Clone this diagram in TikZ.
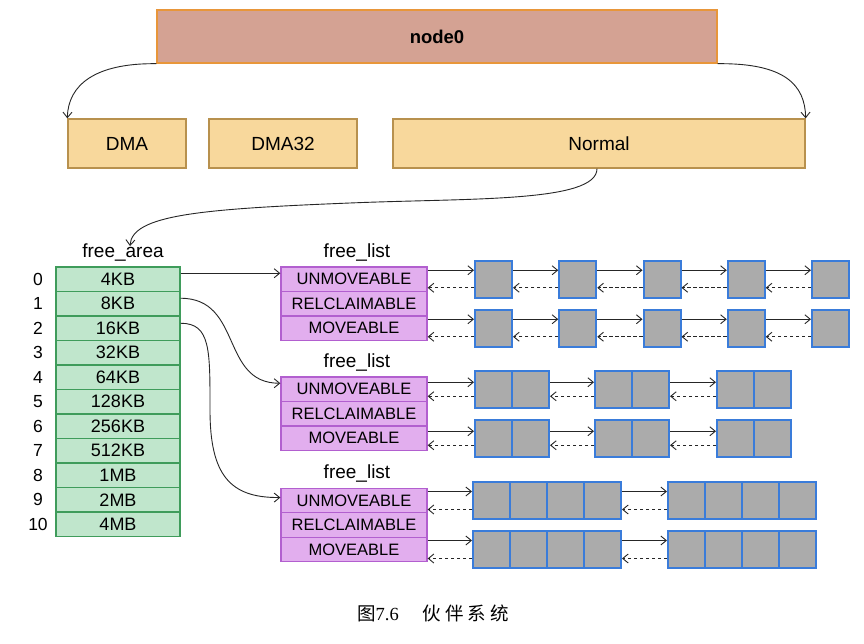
\documentclass[tikz,border=0pt]{standalone}
\usepackage{fontspec}
\setmainfont{Liberation Sans}
\newfontfamily\cjkfont{Noto Sans CJK SC}
\newfontfamily\capserif{Liberation Serif}
\usetikzlibrary{arrows.meta}
\definecolor{nfill}{HTML}{D4A293}
\definecolor{nborder}{HTML}{E8963A}
\definecolor{zfill}{HTML}{F8D89C}
\definecolor{zborder}{HTML}{B8914E}
\definecolor{afill}{HTML}{C0E6CC}
\definecolor{aborder}{HTML}{3F9C5B}
\definecolor{lfill}{HTML}{E2AEEE}
\definecolor{lborder}{HTML}{B25FCF}
\definecolor{bfill}{HTML}{ABABAB}
\definecolor{bborder}{HTML}{3A7CDA}
\begin{document}
\begin{tikzpicture}[x=1pt,y=-1pt,
  arr/.style={draw=black!85, line width=0.9pt, -{Straight Barb[length=5.5pt,width=9pt]}},
  darr/.style={arr, dash pattern=on 3.5pt off 2.5pt},
  nodebox/.style={draw=nborder, fill=nfill, line width=1.4pt, minimum width=560pt, minimum height=53pt, inner sep=0pt, font=\bfseries\fontsize{18.5}{20}\selectfont},
  zone/.style={draw=zborder, fill=zfill, line width=1.3pt, minimum height=49pt, inner sep=0pt, font=\fontsize{19}{21}\selectfont},
  fa/.style={draw=aborder, fill=afill, line width=1.3pt, minimum width=124pt, minimum height=24.5pt, inner sep=0pt, font=\fontsize{18}{20}\selectfont},
  fl/.style={draw=lborder, fill=lfill, line width=1.3pt, minimum width=146pt, minimum height=24.5pt, inner sep=0pt, font=\fontsize{16.5}{18}\selectfont},
  blk/.style={draw=bborder, fill=bfill, line width=2pt, minimum size=37pt, inner sep=0pt},
  lbl/.style={font=\fontsize{19}{21}\selectfont, inner sep=0pt},
  idx/.style={font=\fontsize{17.5}{19}\selectfont, inner sep=0pt}
]
\path[use as bounding box, fill=white] (0,0) rectangle (864,644);

% top level
\node[nodebox] (n0) at (437,36.5) {node0};
\node[zone, minimum width=118pt] (dma) at (127,143.5) {DMA};
\node[zone, minimum width=148pt] (dma32) at (283,143.5) {DMA32};
\node[zone, minimum width=412pt] (normal) at (599,143.5) {Normal};
\draw[arr] (n0.south west) .. controls (95,63) and (68,85) .. (dma.north west);
\draw[arr] (n0.south east) .. controls (785,63) and (805,85) .. (normal.north east);

% free_area
\node[lbl] (falbl) at (123,253) {free\_area};
\draw[arr] ([xshift=-2pt]normal.south) .. controls +(0,34) and (470,198) .. (350,203) .. controls (200,209) and (132,215) .. ([xshift=7pt,yshift=-2pt]falbl.north);
\foreach \t [count=\i from 0] in {4KB,8KB,16KB,32KB,64KB,128KB,256KB,512KB,1MB,2MB,4MB} {
  \node[fa] (fa\i) at (118,279.25+24.5*\i) {\t};
  \node[idx] (ix\i) at (38,279.25+24.5*\i) {\i};
}

% free_list groups
\foreach \g/\top in {1/279.25, 2/389.25, 3/500.5} {
  \node[fl] (u\g) at (354,\top) {UNMOVEABLE};
  \node[fl] (r\g) at (354,\top+24.5) {RELCLAIMABLE};
  \node[fl] (m\g) at (354,\top+49) {MOVEABLE};
  \node[lbl] (flbl\g) at (357,\top-27) {free\_list};
}

% free_area -> free_list
\draw[arr] ([yshift=6pt]fa0.east) -- ([yshift=6pt]u1.west);
\draw[arr] ([yshift=5.5pt]fa1.east) .. controls +(62,0) and +(-60,0) .. ([yshift=6pt]u2.west);
\draw[arr] ([yshift=5pt]fa2.east) .. controls +(30,0) and (210,350) .. (210,410) .. controls (210,475) and (230,498) .. ([yshift=3pt]u3.west);

% group 1 blocks
\foreach \k in {1,...,5} {
  \node[blk] (a\k) at (493.5+84.25*\k-84.25,279.25) {};
  \node[blk] (b\k) at (493.5+84.25*\k-84.25,328.25) {};
}
\draw[arr] ([yshift=9pt]u1.east) -- ([yshift=9pt]a1.west);
\draw[darr] ([yshift=-8.5pt]a1.west) -- ([yshift=-8.5pt]u1.east);
\draw[arr] ([yshift=9pt]m1.east) -- ([yshift=9pt]b1.west);
\draw[darr] ([yshift=-8.5pt]b1.west) -- ([yshift=-8.5pt]m1.east);
\foreach \k/\n in {1/2,2/3,3/4,4/5} {
  \draw[arr] ([yshift=9pt]a\k.east) -- ([yshift=9pt]a\n.west);
  \draw[darr] ([yshift=-8.5pt]a\n.west) -- ([yshift=-8.5pt]a\k.east);
  \draw[arr] ([yshift=9pt]b\k.east) -- ([yshift=9pt]b\n.west);
  \draw[darr] ([yshift=-8.5pt]b\n.west) -- ([yshift=-8.5pt]b\k.east);
}

% group 2 blocks (pairs)
\foreach \p/\l in {1/475,2/595,3/717} {
  \foreach \j in {0,1} {
    \node[blk] (c\p\j) at (\l+18.5+37*\j,389.25) {};
    \node[blk] (d\p\j) at (\l+18.5+37*\j,438.25) {};
  }
}
\draw[arr] ([yshift=7pt]u2.east) -- ([yshift=7pt]c10.west);
\draw[darr] ([yshift=-7pt]c10.west) -- ([yshift=-7pt]u2.east);
\draw[arr] ([yshift=7pt]m2.east) -- ([yshift=7pt]d10.west);
\draw[darr] ([yshift=-7pt]d10.west) -- ([yshift=-7pt]m2.east);
\foreach \k/\n in {1/2,2/3} {
  \draw[arr] ([yshift=7pt]c\k1.east) -- ([yshift=7pt]c\n0.west);
  \draw[darr] ([yshift=-7pt]c\n0.west) -- ([yshift=-7pt]c\k1.east);
  \draw[arr] ([yshift=7pt]d\k1.east) -- ([yshift=7pt]d\n0.west);
  \draw[darr] ([yshift=-7pt]d\n0.west) -- ([yshift=-7pt]d\k1.east);
}

% group 3 blocks (quads)
\foreach \p/\l in {1/473,2/668} {
  \foreach \j in {0,1,2,3} {
    \node[blk] (e\p\j) at (\l+18.5+37*\j,500.5) {};
    \node[blk] (f\p\j) at (\l+18.5+37*\j,549.5) {};
  }
}
\draw[arr] ([yshift=9pt]u3.east) -- ([yshift=9pt]e10.west);
\draw[darr] ([yshift=-9pt]e10.west) -- ([yshift=-9pt]u3.east);
\draw[arr] ([yshift=9pt]m3.east) -- ([yshift=9pt]f10.west);
\draw[darr] ([yshift=-9pt]f10.west) -- ([yshift=-9pt]m3.east);
\draw[arr] ([yshift=9pt]e13.east) -- ([yshift=9pt]e20.west);
\draw[darr] ([yshift=-9pt]e20.west) -- ([yshift=-9pt]e13.east);
\draw[arr] ([yshift=9pt]f13.east) -- ([yshift=9pt]f20.west);
\draw[darr] ([yshift=-9pt]f20.west) -- ([yshift=-9pt]f13.east);

% caption
\node[inner sep=0pt, font=\fontsize{18.5}{20}\selectfont] (cap) at (433,613) {{\cjkfont 图}{\capserif 7.6}\hspace{24pt}{\cjkfont 伙\hspace{4pt}伴\hspace{4pt}系\hspace{4pt}统}};
\end{tikzpicture}
\end{document}
